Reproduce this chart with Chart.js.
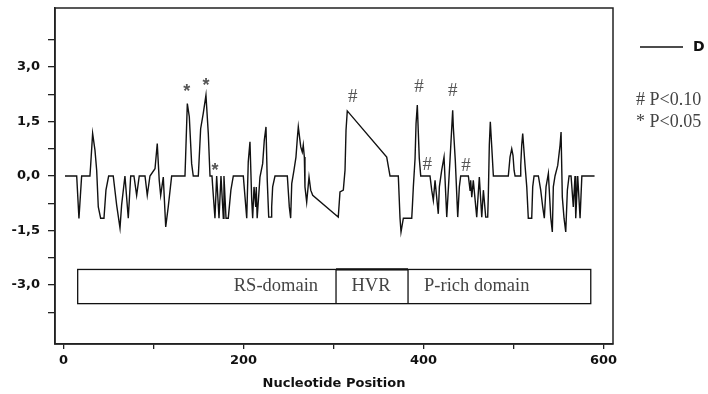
<!DOCTYPE html>
<html>
<head>
<meta charset="utf-8">
<script src="https://cdn.jsdelivr.net/npm/chart.js@4/dist/chart.umd.min.js"></script>
<style>
  body { margin: 0; background: #fff; }
  #wrap { width: 708px; height: 394px; position: relative; }
</style>
</head>
<body>
<div id="wrap"><canvas id="chart"></canvas></div>
<script>
// nucleotide positions and D values
const positions = [1.7, 14.7, 17.2, 20.2, 29.4, 30.2, 32.4, 35, 36.9, 38.7, 41.3, 45, 47.2, 50.2, 55.3, 59.1, 62.8, 64.6, 68.3, 72, 74.7, 78.3, 81.3, 84.2, 90.6, 93.1, 96.1, 101.7,
  104.2, 106.4, 108, 110.9, 113.6, 116.4, 120.2, 135, 135.7, 137.6, 139.8, 142.4, 144.2, 149.8, 152.4, 155.3, 158.3, 160.9, 162.8, 165, 165.8, 168.3, 170.2, 172.8, 175, 177.6, 178.3, 180.6, 183.1, 186, 188.7,
  199.8, 201.7, 203.6, 205.3, 207.2, 209.1, 210.2, 211.7, 213.6, 214.2, 215.2, 218.3, 221.3, 223.1, 225, 226.4, 228, 230.6, 231.3, 232.4, 235, 248.7, 250.9, 252.4, 253.6, 256.1, 258.3, 259.8, 260.9,
  263.6, 265.3, 266.4, 267.6, 268.3, 270.2, 272.8, 274.7, 276.9, 300.9, 305.3, 307.2, 310.9, 312.8, 313.9, 315.3, 359.1, 362.8, 372, 373.9, 375, 377.6, 386.9, 387.6, 388.7, 390.6, 391.7, 393.1, 395.3, 396.9,
  407.2, 409.1, 410.9, 412.8, 416.4, 417.6, 420.2, 422.8, 425.8, 429.4, 432.4, 433.1, 435.3, 438, 439.8, 441.3, 449.8, 451.7, 452.4, 453.6, 455.3, 459.1, 462, 464.7, 466.5, 469.1, 471.3, 472, 473.1, 474.2, 475.8, 477.6,
  494.2, 496.1, 498, 499.4, 500.6, 501.7, 507.2, 508, 509.1, 510.2, 512.8, 514.7, 516.4, 520.2, 521.3, 522.8, 527.6, 530.2, 532.4, 534.2, 536.1, 538.7, 541.3, 543.1, 544.2, 546.1, 549.1, 551.7, 552.8, 554.2,
  556.1, 558, 559.8, 561.7, 563.9, 566.4, 568.3, 569.1, 571.3, 573.9, 575.9, 590];
const dValues = [0, 0, -1.17, 0, 0, 0.29, 1.17, 0.71, 0.16, -0.85, -1.16, -1.16, -0.39, 0, 0, -0.8, -1.43, -0.8, 0, -1.16, 0, 0, -0.53, 0, 0, -0.53, 0, 0.2,
  0.89, -0.12, -0.53, -0.03, -1.4, -0.85, 0, 0, 0.52, 1.99, 1.63, 0.34, 0, 0, 1.3, 1.72, 2.22, 1.17, 0, 0, -0.3, -1.16, 0, -1.16, 0, -1.16, 0, -1.16, -1.16, -0.39, 0,
  0, -0.58, -1.16, 0.39, 0.94, -0.63, -1.16, -0.3, -0.85, -0.3, -1.16, -0.03, 0.34, 0.98, 1.35, -0.12, -1.13, -1.13, -0.85, -0.3, 0, 0, -0.85, -1.16, -0.21, 0.16, 0.52, 1.03, 1.35,
  0.8, 0.66, 0.85, 0.52, -0.3, -0.72, -0.03, -0.39, -0.53, -1.04, -1.13, -0.44, -0.39, 0.16, 1.26, 1.79, 0.52, 0, 0, -1.16, -1.54, -1.16, -1.16, -0.85, -0.3, 0.48, 1.44, 1.95, 0.48, 0,
  0, -0.39, -0.67, -0.12, -1.04, -0.3, 0.16, 0.52, -1.13, 0.43, 1.81, 1.35, 0.43, -1.13, -0.3, 0, 0, -0.39, -0.12, -0.58, -0.12, -1.13, -0.03, -1.13, -0.39, -1.13, -1.13, -0.53, 0.85, 1.49, 0.8, 0,
  0, 0.52, 0.75, 0.57, 0.16, 0, 0, 0.29, 0.85, 1.17, 0.29, -0.3, -1.16, -1.16, -0.3, 0, 0, -0.39, -0.85, -1.16, -0.3, 0.07, -1.13, -1.54, -0.3, 0, 0.29, 0.85, 1.21, -0.58,
  -1.16, -1.54, -0.39, 0, 0, -0.85, 0, -1.16, 0, -1.16, 0, 0];

// significance marks above peaks
const markSymbols = ['*', '*', '*', '#', '#', '#', '#', '#'];
const markX = [136.9, 158.3, 168.3, 321.3, 395, 404.2, 432.4, 447.2];
const markY = [2.38, 2.56, 0.22, 2.18, 2.44, 0.31, 2.34, 0.28];

// gene domain bar
const domainNames = ['RS-domain', 'HVR', 'P-rich domain'];
const domainEdges = [15.8, 302.8, 382.8, 585.8];
const domainLabelX = [236, 341.7, 459.1];
const domainTop = -2.57, domainBottom = -3.51;

const xTicks = [0, 100, 200, 300, 400, 500, 600];
const xLabels = [0, 200, 400, 600];
const yTicks = [-3.75, -3, -2.25, -1.5, -0.75, 0, 0.75, 1.5, 2.25, 3, 3.75];
const yLabels = [-3, -1.5, 0, 1.5, 3];

const points = positions.map((p, i) => ({x: p, y: dValues[i]}));
const axisFont = {family: 'DejaVu Sans', size: 13, weight: 'bold'};

const extras = {
  id: 'extras',
  afterDatasetsDraw(chart) {
    const c = chart.ctx, x = chart.scales.x, y = chart.scales.y, a = chart.chartArea;
    c.save();
    // frame
    c.strokeStyle = '#222';
    c.lineWidth = 1.5;
    c.strokeRect(a.left, a.top, a.right - a.left, a.bottom - a.top);

    // domain bar
    const yt = y.getPixelForValue(domainTop), yb = y.getPixelForValue(domainBottom);
    c.lineWidth = 1.3;
    c.strokeStyle = '#111';
    c.strokeRect(x.getPixelForValue(domainEdges[0]), yt, x.getPixelForValue(domainEdges[3]) - x.getPixelForValue(domainEdges[0]), yb - yt);
    [1, 2].forEach(i => {
      const px = x.getPixelForValue(domainEdges[i]);
      c.beginPath(); c.moveTo(px, yt); c.lineTo(px, yb); c.stroke();
    });
    c.lineWidth = 2.2;
    c.beginPath();
    c.moveTo(x.getPixelForValue(domainEdges[1]), yt);
    c.lineTo(x.getPixelForValue(domainEdges[2]), yt);
    c.stroke();
    c.fillStyle = '#444';
    c.font = '18.5px "Liberation Serif"';
    c.textAlign = 'center';
    c.textBaseline = 'middle';
    domainNames.forEach((n, i) => {
      c.fillText(n, x.getPixelForValue(domainLabelX[i]), (yt + yb) / 2);
    });

    // significance marks
    markSymbols.forEach((s, i) => {
      c.fillStyle = '#555';
      c.font = s === '*' ? 'bold 18px "Liberation Sans"' : '19px "Liberation Serif"';
      c.fillText(s, x.getPixelForValue(markX[i]), y.getPixelForValue(markY[i]) + (s === '*' ? 3 : 0));
    });

    // legend
    c.strokeStyle = '#111';
    c.lineWidth = 1.3;
    c.beginPath(); c.moveTo(640, 47); c.lineTo(683, 47); c.stroke();
    c.fillStyle = '#111';
    c.textAlign = 'left';
    c.font = 'bold 14px "DejaVu Sans"';
    c.fillText('D', 693, 47);
    c.fillStyle = '#444';
    c.font = '18px "Liberation Serif"';
    c.fillText('# P<0.10', 636, 100);
    c.fillText('* P<0.05', 636, 122);
    c.restore();
  }
};

new Chart(document.getElementById('chart'), {
  type: 'line',
  data: {
    datasets: [{
      data: points,
      borderColor: '#111',
      borderWidth: 1.4,
      pointRadius: 0,
      tension: 0,
      fill: false
    }]
  },
  options: {
    responsive: true,
    maintainAspectRatio: false,
    animation: false,
    layout: {padding: {left: 0, top: 8, right: 95, bottom: 0}},
    plugins: {legend: {display: false}, tooltip: {enabled: false}},
    scales: {
      x: {
        type: 'linear',
        min: -9.4,
        max: 610.5,
        afterBuildTicks: s => { s.ticks = xTicks.map(v => ({value: v})); },
        afterFit: s => { s.height = 50; s.paddingLeft = 0; s.paddingRight = 0; },
        grid: {drawOnChartArea: false, tickLength: 5, color: '#222', lineWidth: 1.3},
        border: {color: '#222', width: 1.5},
        ticks: {
          autoSkip: false,
          maxRotation: 0,
          padding: 4,
          color: '#111',
          font: axisFont,
          callback: v => xLabels.includes(v) ? String(v) : ''
        },
        title: {
          display: true,
          text: 'Nucleotide Position',
          color: '#111',
          padding: {top: 0, bottom: 3},
          font: axisFont
        }
      },
      y: {
        min: -4.62,
        max: 4.62,
        afterBuildTicks: s => { s.ticks = yTicks.map(v => ({value: v})); },
        afterFit: s => { s.width = 55; s.paddingTop = 0; s.paddingBottom = 0; },
        grid: {drawOnChartArea: false, tickLength: 7, color: '#222', lineWidth: 1.3},
        border: {color: '#222', width: 1.5},
        ticks: {
          autoSkip: false,
          padding: 8,
          color: '#111',
          font: axisFont,
          callback: v => yLabels.includes(v) ? v.toFixed(1).replace('.', ',') : ''
        }
      }
    }
  },
  plugins: [extras]
});
</script>
</body>
</html>
